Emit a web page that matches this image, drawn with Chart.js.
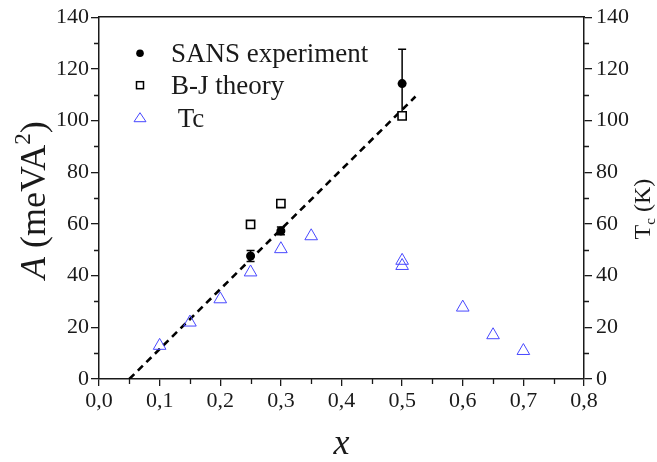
<!DOCTYPE html>
<html>
<head>
<meta charset="utf-8">
<script src="https://cdn.jsdelivr.net/npm/chart.js@4/dist/chart.umd.min.js"></script>
<style>
  body { margin: 0; background: #fff; }
  canvas { display: block; }
</style>
</head>
<body>
<canvas id="chart" width="657" height="462"></canvas>
<script>
/* data */
const sansX = [0.25, 0.3, 0.5];
const sansY = [47.6, 57.3, 114.3];
const sansErr = [2.1, 1.5, 13.3];

const bjX = [0.25, 0.3, 0.5];
const bjY = [59.8, 67.9, 101.8];

const tcX = [0.1, 0.15, 0.2, 0.25, 0.3, 0.35, 0.5, 0.5, 0.6, 0.65, 0.7];
const tcY = [12.9, 21.9, 30.9, 41.3, 50.3, 55.3, 45.8, 43.8, 27.7, 17.0, 10.9];

const fitX = [0.05, 0.522];
const fitY = [0, 109.3];

const legendLabels = ['SANS experiment', 'B-J theory', ' Tc'];

const SERIF = '"Liberation Serif", "Times New Roman", serif';
const INK = '#1a1a1a';
const TC_BLUE = 'rgb(72, 72, 255)';

function toPoints(xs, ys) {
    return xs.map((x, i) => ({ x: x, y: ys[i] }));
}

/* error bars on the SANS points */
const errorBars = {
    id: 'errorBars',
    beforeDatasetsDraw(chart) {
        const { ctx, scales } = chart;
        ctx.save();
        ctx.strokeStyle = '#000';
        ctx.lineWidth = 1.5;
        ctx.beginPath();
        sansX.forEach((x, i) => {
            const px = scales.x.getPixelForValue(x);
            const top = scales.y.getPixelForValue(sansY[i] + sansErr[i]);
            const bot = scales.y.getPixelForValue(sansY[i] - sansErr[i]);
            ctx.moveTo(px, top); ctx.lineTo(px, bot);
            ctx.moveTo(px - 4, top); ctx.lineTo(px + 4, top);
            ctx.moveTo(px - 4, bot); ctx.lineTo(px + 4, bot);
        });
        ctx.stroke();
        ctx.restore();
    }
};

/* short minor ticks between the labelled ones */
const minorTicks = {
    id: 'minorTicks',
    afterDraw(chart) {
        const { ctx, chartArea, scales } = chart;
        ctx.save();
        ctx.strokeStyle = INK;
        ctx.lineWidth = 1.3;
        ctx.beginPath();
        for (let v = 10; v < 140; v += 20) {
            const py = Math.round(scales.y.getPixelForValue(v)) + 0.5;
            ctx.moveTo(chartArea.left - 5, py); ctx.lineTo(chartArea.left, py);
            ctx.moveTo(chartArea.right, py); ctx.lineTo(chartArea.right + 5, py);
        }
        for (let v = 0.05; v < 0.8; v += 0.1) {
            const px = Math.round(scales.x.getPixelForValue(v)) + 0.5;
            ctx.moveTo(px, chartArea.bottom); ctx.lineTo(px, chartArea.bottom + 5);
        }
        ctx.stroke();
        ctx.restore();
    }
};

/* legend box inside the plot, upper left */
const insideLegend = {
    id: 'insideLegend',
    afterDraw(chart) {
        const { ctx, chartArea } = chart;
        const mx = chartArea.left + 41;
        const tx = chartArea.left + 72;
        const rows = [36, 68, 101];
        ctx.save();
        ctx.font = '27px ' + SERIF;
        ctx.fillStyle = INK;
        ctx.textBaseline = 'middle';
        legendLabels.forEach((label, i) => {
            ctx.fillText(label, tx, chartArea.top + rows[i] + 2);
        });
        // markers
        let y = chartArea.top + rows[0];
        ctx.fillStyle = '#000';
        ctx.beginPath(); ctx.arc(mx, y, 3.8, 0, Math.PI * 2); ctx.fill();
        y = chartArea.top + rows[1];
        ctx.strokeStyle = '#000'; ctx.lineWidth = 1.5;
        ctx.strokeRect(mx - 3.5, y - 3.5, 7, 7);
        y = chartArea.top + rows[2];
        ctx.strokeStyle = TC_BLUE; ctx.lineWidth = 1;
        ctx.beginPath();
        ctx.moveTo(mx, y - 5.5); ctx.lineTo(mx + 6, y + 3.5); ctx.lineTo(mx - 6, y + 3.5);
        ctx.closePath(); ctx.stroke();
        ctx.restore();
    }
};

/* axis titles with italic / super / subscript parts */
function drawRuns(ctx, runs) {
    let total = 0;
    runs.forEach(r => { ctx.font = r.font; r.w = ctx.measureText(r.text).width; total += r.w; });
    let x = -total / 2;
    runs.forEach(r => {
        ctx.font = r.font;
        ctx.fillText(r.text, x, r.dy || 0);
        x += r.w;
    });
}

const axisTitles = {
    id: 'axisTitles',
    afterDraw(chart) {
        const { ctx, chartArea } = chart;
        const midY = (chartArea.top + chartArea.bottom) / 2;
        ctx.save();
        ctx.fillStyle = INK;
        ctx.textBaseline = 'alphabetic';

        ctx.save();
        ctx.translate(45, midY + 2);
        ctx.rotate(-Math.PI / 2);
        drawRuns(ctx, [
            { text: 'A', font: 'italic 36px ' + SERIF },
            { text: ' (meVA', font: '36px ' + SERIF },
            { text: '2', font: '23px ' + SERIF, dy: -15 },
            { text: ')', font: '36px ' + SERIF }
        ]);
        ctx.restore();

        ctx.save();
        ctx.translate(650, midY + 11);
        ctx.rotate(-Math.PI / 2);
        drawRuns(ctx, [
            { text: 'T', font: '24px ' + SERIF },
            { text: 'c', font: '15px ' + SERIF, dy: 5 },
            { text: ' (K)', font: '24px ' + SERIF }
        ]);
        ctx.restore();

        ctx.save();
        ctx.translate((chartArea.left + chartArea.right) / 2, 454);
        drawRuns(ctx, [{ text: 'x', font: 'italic 36px ' + SERIF }]);
        ctx.restore();

        ctx.restore();
    }
};

const axisLine = { display: true, color: INK, width: 1.5 };
const tickFont = { family: SERIF, size: 22 };

new Chart('chart', {
    type: 'scatter',
    data: {
        datasets: [
            {
                label: legendLabels[0],
                data: toPoints(sansX, sansY),
                pointStyle: 'circle',
                pointRadius: 4.5,
                backgroundColor: '#000',
                borderColor: '#000',
                borderWidth: 0,
                yAxisID: 'y'
            },
            {
                label: legendLabels[1],
                data: toPoints(bjX, bjY),
                pointStyle: 'rect',
                pointRadius: 5.8,
                backgroundColor: '#fff',
                borderColor: '#000',
                borderWidth: 1.6,
                yAxisID: 'y'
            },
            {
                label: legendLabels[2],
                data: toPoints(tcX, tcY),
                pointStyle: 'triangle',
                pointRadius: 7.3,
                backgroundColor: 'rgba(0,0,0,0)',
                borderColor: TC_BLUE,
                borderWidth: 1,
                yAxisID: 'y2'
            },
            {
                type: 'line',
                label: 'fit',
                data: toPoints(fitX, fitY),
                borderColor: '#000',
                borderWidth: 2.6,
                borderDash: [7, 5],
                pointRadius: 0,
                fill: false,
                yAxisID: 'y'
            }
        ]
    },
    options: {
        responsive: false,
        animation: false,
        devicePixelRatio: 1,
        layout: { padding: 0 },
        plugins: {
            legend: { display: false },
            tooltip: { enabled: false }
        },
        scales: {
            x: {
                type: 'linear',
                position: 'bottom',
                min: 0,
                max: 0.8,
                border: axisLine,
                grid: { drawOnChartArea: false, color: INK, lineWidth: 1.3, tickLength: 7 },
                ticks: {
                    stepSize: 0.1,
                    color: INK,
                    font: tickFont,
                    padding: 2,
                    maxRotation: 0,
                    callback: v => v.toFixed(1).replace('.', ',')
                },
                afterFit: s => { s.height = 83; }
            },
            x2: {
                type: 'linear',
                position: 'top',
                min: 0,
                max: 0.8,
                border: axisLine,
                grid: { display: false },
                ticks: { display: false },
                afterFit: s => { s.height = 17; }
            },
            y: {
                position: 'left',
                min: 0,
                max: 140,
                border: axisLine,
                grid: { drawOnChartArea: false, color: INK, lineWidth: 1.3, tickLength: 8 },
                ticks: { stepSize: 20, color: INK, font: tickFont, padding: 2 },
                afterFit: s => { s.width = 99; }
            },
            y2: {
                position: 'right',
                min: 0,
                max: 140,
                border: axisLine,
                grid: { drawOnChartArea: false, color: INK, lineWidth: 1.3, tickLength: 8 },
                ticks: { stepSize: 20, color: INK, font: tickFont, padding: 4 },
                afterFit: s => { s.width = 73; }
            }
        }
    },
    plugins: [errorBars, minorTicks, insideLegend, axisTitles]
});
</script>
</body>
</html>
